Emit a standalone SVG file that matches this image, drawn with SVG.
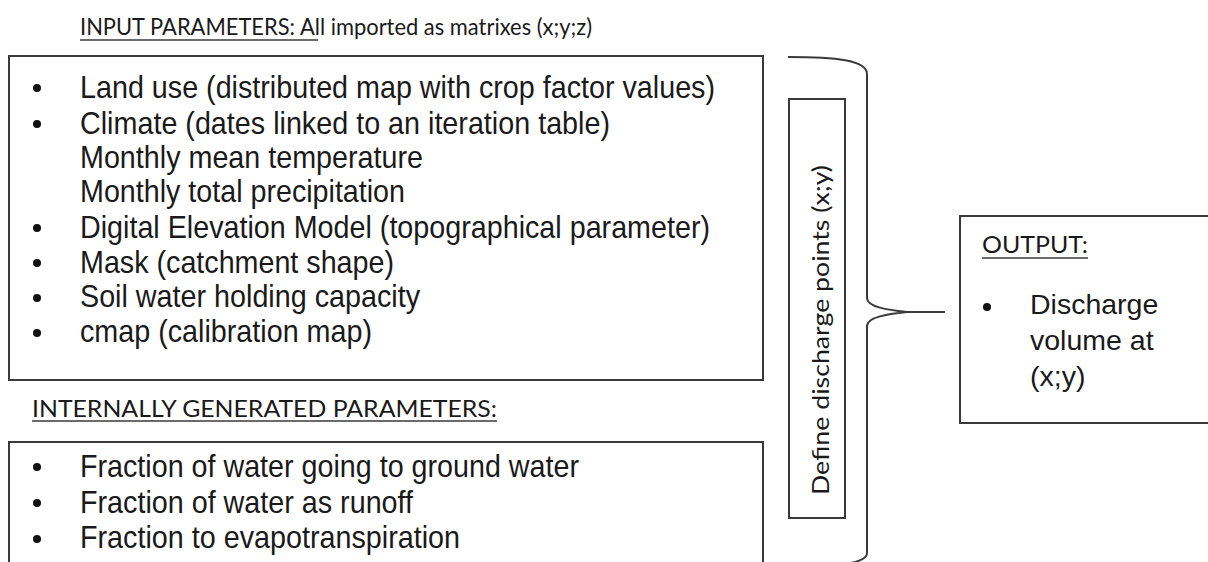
<svg xmlns="http://www.w3.org/2000/svg" width="1208" height="562" viewBox="0 0 1208 562">
<style>
.box{fill:#fff;stroke:#3a3a3a;stroke-width:2}
.item{font-family:"Liberation Sans",Arial,sans-serif;font-size:32px;fill:#1a1a1a}
.out{font-family:"Liberation Sans",Arial,sans-serif;font-size:28.5px;fill:#1a1a1a}
.head{font-family:Lato,"Open Sans",sans-serif;font-size:23px;fill:#1a1a1a}
.ul{stroke:#3a3a3a;stroke-width:1.5}
.bul{fill:#111}
.conn{fill:none;stroke:#3a3a3a;stroke-width:2}
</style>
<rect width="1208" height="562" fill="#fff"/>
<g id="title">
<text class="head" x="80" y="35" textLength="512" lengthAdjust="spacingAndGlyphs">INPUT PARAMETERS: All imported as matrixes (x;y;z)</text>
<line class="ul" x1="80" y1="40" x2="318" y2="40"/>
</g>
<g id="input-box">
<rect class="box" x="9" y="56" width="754" height="324"/>
<circle class="bul" cx="37" cy="88" r="4"/>
<text class="item" x="80" y="98" textLength="635" lengthAdjust="spacingAndGlyphs">Land use (distributed map with crop factor values)</text>
<circle class="bul" cx="37" cy="124" r="4"/>
<text class="item" x="80" y="134" textLength="530" lengthAdjust="spacingAndGlyphs">Climate (dates linked to an iteration table)</text>
<text class="item" x="80" y="168" textLength="343" lengthAdjust="spacingAndGlyphs">Monthly mean temperature</text>
<text class="item" x="80" y="202" textLength="325" lengthAdjust="spacingAndGlyphs">Monthly total precipitation</text>
<circle class="bul" cx="37" cy="228" r="4"/>
<text class="item" x="80" y="238" textLength="630" lengthAdjust="spacingAndGlyphs">Digital Elevation Model (topographical parameter)</text>
<circle class="bul" cx="37" cy="263" r="4"/>
<text class="item" x="80" y="273" textLength="314" lengthAdjust="spacingAndGlyphs">Mask (catchment shape)</text>
<circle class="bul" cx="37" cy="298" r="4"/>
<text class="item" x="80" y="307" textLength="340" lengthAdjust="spacingAndGlyphs">Soil water holding capacity</text>
<circle class="bul" cx="37" cy="333" r="4"/>
<text class="item" x="80" y="342" textLength="292" lengthAdjust="spacingAndGlyphs">cmap (calibration map)</text>
</g>
<g id="internal-title">
<text class="head" x="32" y="417" textLength="465" lengthAdjust="spacingAndGlyphs">INTERNALLY GENERATED PARAMETERS:</text>
<line class="ul" x1="32" y1="421" x2="497" y2="421"/>
</g>
<g id="internal-box">
<rect class="box" x="9" y="442" width="754" height="140"/>
<circle class="bul" cx="37" cy="467" r="4"/>
<text class="item" x="80" y="477" textLength="499" lengthAdjust="spacingAndGlyphs">Fraction of water going to ground water</text>
<circle class="bul" cx="37" cy="503" r="4"/>
<text class="item" x="80" y="513" textLength="333" lengthAdjust="spacingAndGlyphs">Fraction of water as runoff</text>
<circle class="bul" cx="37" cy="539" r="4"/>
<text class="item" x="80" y="548" textLength="380" lengthAdjust="spacingAndGlyphs">Fraction to evapotranspiration</text>
</g>
<g id="define-box">
<rect class="box" x="789" y="99" width="56" height="419"/>
<text class="head" transform="translate(829,495) rotate(-90)" x="0" y="0" font-size="26" textLength="330" lengthAdjust="spacingAndGlyphs">Define discharge points (x;y)</text>
</g>
<g id="connectors">
<path class="conn" d="M788,57 C835,57 867,60 867,74 L867,298 C867,307 888,310 907,312 C888,314 867,317 867,326 L867,553 C867,564 835,567 788,567"/>
<line class="conn" x1="905" y1="312" x2="945" y2="312"/>
</g>
<g id="output-box">
<rect class="box" x="960" y="216" width="260" height="207"/>
<text class="head" x="982" y="253" textLength="106" lengthAdjust="spacingAndGlyphs">OUTPUT:</text>
<line class="ul" x1="982" y1="258" x2="1088" y2="258"/>
<circle class="bul" cx="987" cy="307" r="4"/>
<text class="out" x="1030" y="314">Discharge</text>
<text class="out" x="1030" y="350">volume at</text>
<text class="out" x="1030" y="386">(x;y)</text>
</g>
</svg>
